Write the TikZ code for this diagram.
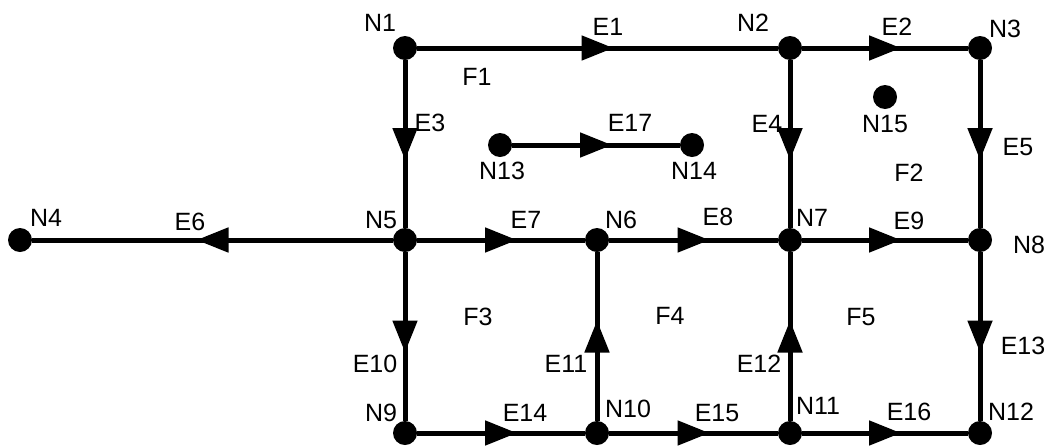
\documentclass[tikz,border=0pt]{standalone}
\usepackage{fontspec}
\setmainfont{Liberation Sans}
\usetikzlibrary{arrows.meta,decorations.markings}
\tikzset{
  vtx/.style={circle,fill=black,inner sep=0pt,minimum size=24pt},
  lbl/.style={font=\fontsize{25}{25}\selectfont,inner sep=0pt},
  edge/.style={line width=5pt,postaction={decorate},decoration={markings,
    mark=at position 0.5 with {\arrow[xshift=16pt]{Triangle[length=32pt,width=24pt]}}}}
}
\begin{document}
\begin{tikzpicture}[x=1pt,y=-1pt]
\useasboundingbox (0,0) rectangle (1049,445);
\node[vtx] (N1) at (405,48) {};
\node[vtx] (N2) at (790,48) {};
\node[vtx] (N3) at (980,48) {};
\node[vtx] (N4) at (20,240) {};
\node[vtx] (N5) at (405,240) {};
\node[vtx] (N6) at (597,240) {};
\node[vtx] (N7) at (790,240) {};
\node[vtx] (N8) at (980,240) {};
\node[vtx] (N9) at (405,433) {};
\node[vtx] (N10) at (597,433) {};
\node[vtx] (N11) at (790,433) {};
\node[vtx] (N12) at (980,433) {};
\node[vtx] (N13) at (500,145) {};
\node[vtx] (N14) at (692,145) {};
\node[vtx] (N15) at (885,97) {};
\draw[edge] (N1) -- (N2);
\draw[edge] (N2) -- (N3);
\draw[edge] (N1) -- (N5);
\draw[edge] (N2) -- (N7);
\draw[edge] (N3) -- (N8);
\draw[edge] (N5) -- (N4);
\draw[edge] (N5) -- (N6);
\draw[edge] (N6) -- (N7);
\draw[edge] (N7) -- (N8);
\draw[edge] (N5) -- (N9);
\draw[edge] (N10) -- (N6);
\draw[edge] (N11) -- (N7);
\draw[edge] (N8) -- (N12);
\draw[edge] (N9) -- (N10);
\draw[edge] (N10) -- (N11);
\draw[edge] (N11) -- (N12);
\draw[edge] (N13) -- (N14);
\node[lbl] (lN1) at (380,23) {N1};
\node[lbl] (lE1) at (608,27) {E1};
\node[lbl] (lN2) at (753,23) {N2};
\node[lbl] (lE2) at (897,27) {E2};
\node[lbl] (lN3) at (1005,29) {N3};
\node[lbl] (lF1) at (477,77) {F1};
\node[lbl] (lE3) at (430,123) {E3};
\node[lbl] (lE17) at (630,123) {E17};
\node[lbl] (lN13) at (502,171) {N13};
\node[lbl] (lN14) at (694,171) {N14};
\node[lbl] (lE4) at (767,124) {E4};
\node[lbl] (lN15) at (885,124) {N15};
\node[lbl] (lE5) at (1018,147) {E5};
\node[lbl] (lF2) at (909,173) {F2};
\node[lbl] (lN4) at (46,218) {N4};
\node[lbl] (lE6) at (190,222) {E6};
\node[lbl] (lN5) at (381,220) {N5};
\node[lbl] (lE7) at (526,220) {E7};
\node[lbl] (lN6) at (621,220) {N6};
\node[lbl] (lE8) at (718,217) {E8};
\node[lbl] (lN7) at (812,218) {N7};
\node[lbl] (lE9) at (909,221) {E9};
\node[lbl] (lN8) at (1029,245) {N8};
\node[lbl] (lF3) at (478,317) {F3};
\node[lbl] (lF4) at (670,316) {F4};
\node[lbl] (lF5) at (861,317) {F5};
\node[lbl] (lE13) at (1023,346) {E13};
\node[lbl] (lE10) at (375,364) {E10};
\node[lbl] (lE11) at (566,364) {E11};
\node[lbl] (lE12) at (759,364) {E12};
\node[lbl] (lN9) at (381,413) {N9};
\node[lbl] (lE14) at (525,413) {E14};
\node[lbl] (lN10) at (628,409) {N10};
\node[lbl] (lE15) at (717,413) {E15};
\node[lbl] (lN11) at (818,406) {N11};
\node[lbl] (lE16) at (909,412) {E16};
\node[lbl] (lN12) at (1011,412) {N12};
\end{tikzpicture}
\end{document}
